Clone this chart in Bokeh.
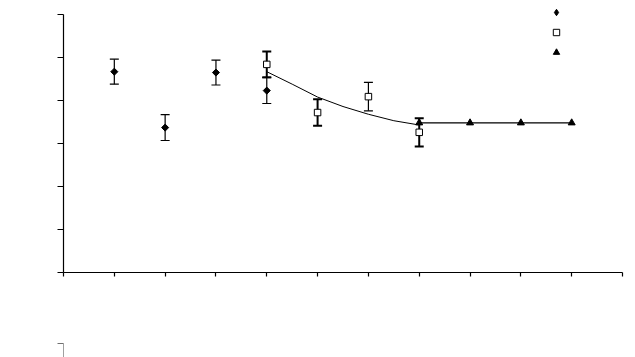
import math
from bokeh.plotting import figure
from bokeh.models import Range1d, FixedTicker, Legend, LegendItem, ColumnDataSource
from bokeh.layouts import column
from bokeh.embed import file_html
from bokeh.resources import INLINE

# ---- data ----
x_ticks = list(range(0, 12))
y_ticks = list(range(0, 7))

diamond_x = [1, 2, 3, 4]
diamond_y = [4.67, 3.37, 4.65, 4.23]
diamond_err = [0.29, 0.30, 0.29, 0.30]
diamond_lw = [1.2, 1.2, 1.2, 1.2]

square_x = [4, 5, 6, 7]
square_y = [4.84, 3.72, 4.09, 3.26]
square_err = [0.30, 0.31, 0.33, 0.33]
square_lw = [2.0, 2.0, 1.2, 2.0]

triangle_x = [7, 8, 9, 10]
triangle_y = [3.48, 3.48, 3.48, 3.48]

fit_x = [4, 4.5, 5, 5.5, 6, 6.5, 7]
fit_y = [4.67, 4.38, 4.08, 3.86, 3.68, 3.53, 3.43]

# ---- main figure ----
# frame extends 10 px above the top tick so that the legend is not clipped
p = figure(width=635, height=340, output_backend="svg", toolbar_location=None,
           x_range=Range1d(0, 11), y_range=Range1d(0, 6 + 10 / 43),
           min_border_left=63, min_border_right=13, min_border_top=4, min_border_bottom=68)
p.outline_line_color = None
p.grid.visible = False
p.background_fill_color = "white"
p.border_fill_color = "white"

for ax in (p.xaxis[0], p.yaxis[0]):
    ax.axis_line_color = "black"
    ax.axis_line_width = 1.2
    ax.major_tick_line_color = "black"
    ax.major_tick_line_width = 1.2
    ax.major_tick_in = 0
    ax.minor_tick_line_color = None
    ax.major_label_text_font_size = "0px"
    ax.major_label_text_alpha = 0
p.xaxis[0].ticker = FixedTicker(ticks=x_ticks)
p.yaxis[0].ticker = FixedTicker(ticks=y_ticks)
p.yaxis[0].bounds = (0, 6)
p.xaxis[0].major_tick_out = 4
p.yaxis[0].major_tick_out = 6

# fitted curve and plateau line
p.line(fit_x, fit_y, line_color="black", line_width=1)
p.line(triangle_x, triangle_y, line_color="black", line_width=1.3)

def errorbars(xs, ys, errs, lws):
    lo = [y - e for y, e in zip(ys, errs)]
    hi = [y + e for y, e in zip(ys, errs)]
    src = ColumnDataSource(dict(x=xs, lo=lo, hi=hi, lw=lws))
    p.segment(x0="x", y0="lo", x1="x", y1="hi", source=src, line_color="black", line_width="lw")
    p.scatter(x="x", y="lo", source=src, marker="dash", size=9, line_color="black", line_width="lw")
    p.scatter(x="x", y="hi", source=src, marker="dash", size=9, line_color="black", line_width="lw")

errorbars(diamond_x, diamond_y, diamond_err, diamond_lw)
errorbars(square_x, square_y, square_err, square_lw)

p.scatter(diamond_x, diamond_y, marker="square", angle=math.pi / 4, size=5,
          fill_color="black", line_color="black")
r_s = p.scatter(square_x, square_y, marker="square", size=6.5, fill_color="white", line_color="black", line_width=1)
r_t = p.scatter(triangle_x, triangle_y, marker="triangle", size=7, fill_color="black", line_color="black")

# legend key for the diamond series (a non-plotted placeholder point)
r_d_key = p.scatter(x=[float("nan")], y=[float("nan")], marker="diamond", size=7,
                    fill_color="black", line_color="black")

legend = Legend(items=[LegendItem(label=" ", renderers=[r_d_key]),
                       LegendItem(label=" ", renderers=[r_s]),
                       LegendItem(label=" ", renderers=[r_t])],
                location=(485, 212), padding=0, spacing=4, margin=0,
                glyph_width=16, glyph_height=16, label_height=16, label_width=1,
                label_standoff=0, label_text_font_size="1px",
                border_line_color=None, background_fill_alpha=0)
p.add_layout(legend, "center")

# ---- partially visible axis of a chart below ----
p2 = figure(width=635, height=17, output_backend="svg", toolbar_location=None,
            x_range=Range1d(0, 1), y_range=Range1d(0, 1), x_axis_location=None,
            min_border_left=62, min_border_right=13, min_border_top=3, min_border_bottom=0)
p2.outline_line_color = None
p2.grid.visible = False
p2.yaxis[0].ticker = FixedTicker(ticks=[1])
p2.yaxis[0].axis_line_color = "#a0a0a0"
p2.yaxis[0].major_tick_line_color = "#707070"
p2.yaxis[0].major_tick_in = 0
p2.yaxis[0].major_tick_out = 6
p2.yaxis[0].minor_tick_line_color = None
p2.yaxis[0].major_label_text_font_size = "0px"
p2.yaxis[0].major_label_text_alpha = 0

layout = column(p, p2, spacing=0)
open("out.html", "w").write(file_html(layout, INLINE))
